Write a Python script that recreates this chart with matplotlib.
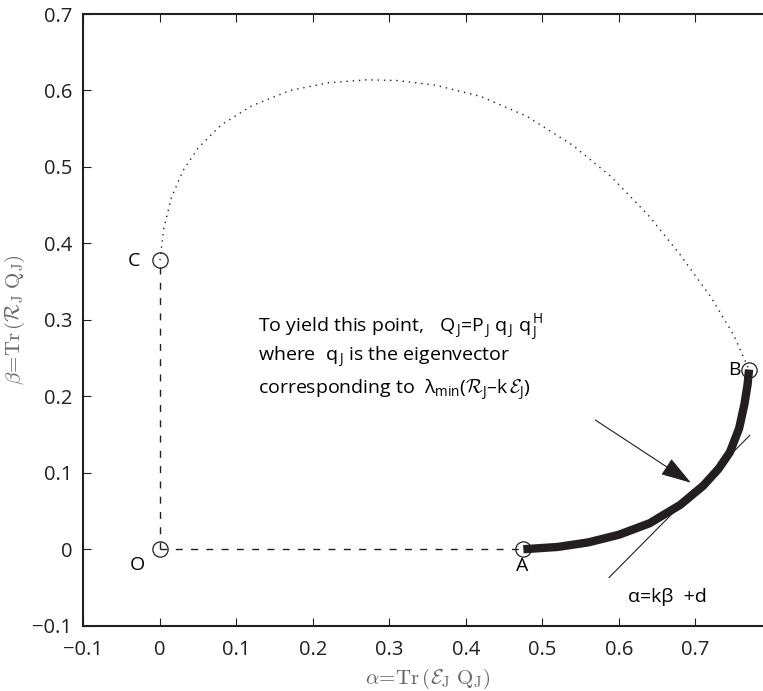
import matplotlib
matplotlib.use("Agg")
import matplotlib.pyplot as plt

plt.rcParams['font.family'] = ['Open Sans', 'DejaVu Sans']
plt.rcParams['mathtext.fontset'] = 'custom'
plt.rcParams['mathtext.rm'] = 'Open Sans'
plt.rcParams['mathtext.it'] = 'Open Sans:italic'
plt.rcParams['mathtext.bf'] = 'Open Sans:bold'
plt.rcParams['mathtext.cal'] = 'cmsy10'

# special points
pt_x = [0.0, 0.0, 0.475, 0.77]
pt_y = [0.0, 0.378, 0.0, 0.235]

# dotted boundary from C to B
arc_x = [0.0, 0.005, 0.015, 0.03, 0.05, 0.08, 0.12, 0.17, 0.22, 0.27, 0.31, 0.36, 0.42,
         0.48, 0.54, 0.59, 0.64, 0.68, 0.72, 0.75, 0.77]
arc_y = [0.378, 0.42, 0.46, 0.495, 0.525, 0.555, 0.58, 0.6, 0.61, 0.614, 0.613, 0.607, 0.592,
         0.566, 0.528, 0.487, 0.435, 0.385, 0.33, 0.28, 0.235]

# thick curve from A to B
cur_x = [0.475, 0.52, 0.56, 0.6, 0.64, 0.68, 0.71, 0.73, 0.745, 0.757, 0.764, 0.768, 0.77]
cur_y = [0.0, 0.003, 0.009, 0.019, 0.034, 0.058, 0.083, 0.105, 0.127, 0.158, 0.19, 0.215, 0.235]

# tangent line
tan_x = [0.587, 0.771]
tan_y = [-0.037, 0.149]

ticks = [-0.1, 0, 0.1, 0.2, 0.3, 0.4, 0.5, 0.6, 0.7]
tick_labels = ['\u22120.1', '0', '0.1', '0.2', '0.3', '0.4', '0.5', '0.6', '0.7']

fig = plt.figure(figsize=(7.63, 6.91), dpi=100)
ax = fig.add_axes([0.1094, 0.0945, 0.9024, 0.8852])
ink = '#231f20'

ax.plot(arc_x, arc_y, color=ink, lw=1.0, dashes=(1, 3.5))
ax.plot([0, 0], [0, 0.378], color=ink, lw=1.0, dashes=(5, 6))
ax.plot([0, 0.475], [0, 0], color=ink, lw=1.0, dashes=(5, 6))
ax.plot(tan_x, tan_y, '-', color=ink, lw=0.8)
ax.plot(cur_x, cur_y, '-', color=ink, lw=6, solid_capstyle='butt')
ax.plot(pt_x, pt_y, 'o', mfc='none', mec=ink, ms=11, mew=0.9)

ax.text(-0.034, 0.377, 'C', fontsize=14, ha='center', va='center')
ax.text(-0.029, -0.021, 'O', fontsize=14, ha='center', va='center')
ax.text(0.473, -0.022, 'A', fontsize=14, ha='center', va='center')
ax.text(0.751, 0.235, 'B', fontsize=14, ha='center', va='center')

lam = '\u03bb'
dash = '\u2013'
ax.text(0.128, 0.29,
        r'To yield this point,   Q$_{\,\rm J}$=P$_{\,\rm J}$ q$_{\,\rm J}$ q$_{\,\rm J}^{\,\rm H}$',
        fontsize=14, va='center')
ax.text(0.128, 0.251, r'where  q$_{\,\rm J}$ is the eigenvector', fontsize=14, va='center')
ax.text(0.128, 0.209,
        'corresponding to  ' + lam + r'$_{\rm min}$($\mathcal{R}_{\rm J}$' + dash
        + r'k$\,\mathcal{E}_{\rm J}$)',
        fontsize=14, va='center')
ax.text(0.612, -0.063, '\u03b1=k\u03b2  +d', fontsize=14, va='center')

ax.annotate('', xy=(0.697, 0.085), xytext=(0.566, 0.171),
            arrowprops=dict(arrowstyle='-|>,head_length=0.8,head_width=0.25', color=ink,
                            lw=0.8, mutation_scale=24))

ax.set_xlim(-0.1, 0.8)
ax.set_ylim(-0.1, 0.7)
ax.set_xticks(ticks)
ax.set_xticklabels(tick_labels)
ax.set_yticks(ticks)
ax.set_yticklabels(tick_labels)
ax.tick_params(direction='in', top=True, right=True, length=6, width=0.8, labelsize=14.5,
               colors=ink)
ax.tick_params(axis='x', pad=10)
ax.tick_params(axis='y', pad=8)
for s in ax.spines.values():
    s.set_linewidth(1.5)
    s.set_color(ink)

ax.set_xlabel(r'$\alpha\!=\!\mathrm{Tr}\,(\mathcal{E}_{\rm J}\ \mathrm{Q}_{\rm J})$', fontsize=15,
              color='#666666', labelpad=5, math_fontfamily='cm')
ax.set_ylabel(r'$\beta\!=\!\mathrm{Tr}\,(\mathcal{R}_{\rm J}\ \mathrm{Q}_{\rm J})$', fontsize=15,
              color='#666666', labelpad=4, math_fontfamily='cm')

fig.savefig('out.png', dpi=100)
